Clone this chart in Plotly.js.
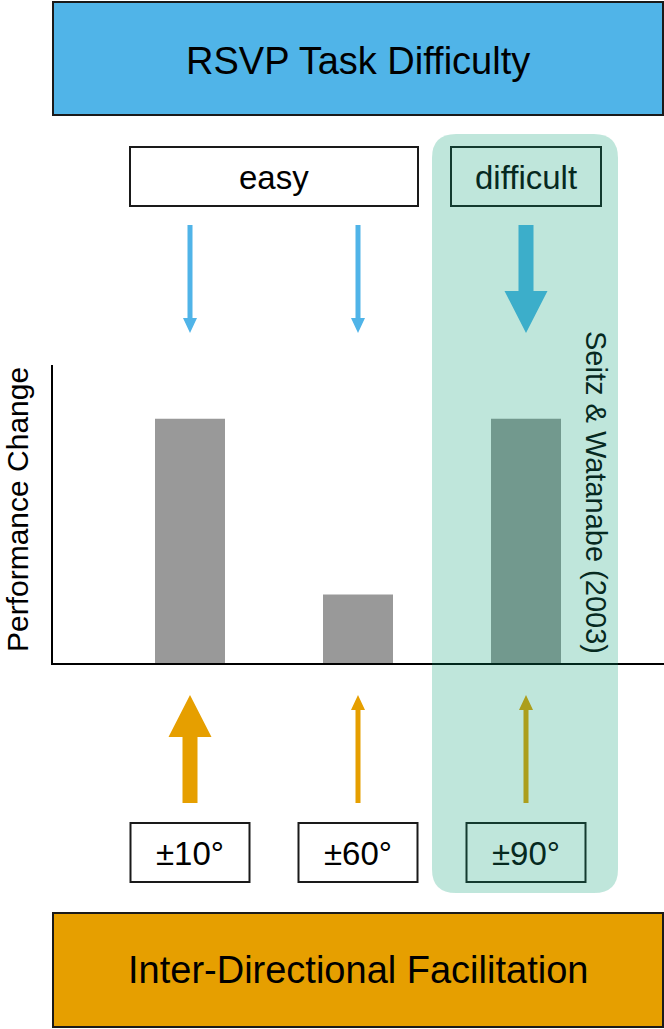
<!DOCTYPE html>
<html>
<head>
<meta charset="utf-8">
<script src="https://cdn.plot.ly/plotly-3.0.1.min.js"></script>
<style>body{margin:0;background:#fff}#chart{width:664px;height:1029px}</style>
</head>
<body>
<div id="chart"></div>
<script>
// Data
const directions = ['±10°', '±60°', '±90°'];
const performanceChange = [0.82, 0.23, 0.82];
const difficultyGroups = ['easy', 'easy', 'difficult'];
const rsvpArrow = ['thin', 'thin', 'thick'];
const facilitationArrow = ['thick', 'thin', 'thin'];
const topLabel = 'RSVP Task Difficulty';
const bottomLabel = 'Inter-Directional Facilitation';
const citation = 'Seitz & Watanabe (2003)';

// Page geometry (pixels)
const W = 664, H = 1029;
const fontFamily = 'Liberation Sans, Arial, sans-serif';
const blue = '#50B4E8', orange = '#E69F00', tint = '#06291f';
const colPx = 168, firstColPx = 190;
const axisLeft = 53, axisBottom = 663, axisTop = 365;

const px = v => v / W;          // px -> paper x
const py = v => 1 - v / H;      // px -> paper y
const dx = v => v / colPx;      // px -> data units on x
const cols = directions.map((_, i) => i);

const arrowSize = {
    thin: { shaft: 5, head: 14, len: 15 },
    thick: { shaft: 15, head: 43, len: 42 }
};

function arrowPath(i, yFrom, yTip, kind) {
    const s = arrowSize[kind];
    const dir = yTip > yFrom ? 1 : -1;
    const yb = yTip - dir * s.len;
    const pts = [
        [i - dx(s.shaft / 2), yFrom], [i + dx(s.shaft / 2), yFrom],
        [i + dx(s.shaft / 2), yb], [i + dx(s.head / 2), yb],
        [i, yTip],
        [i - dx(s.head / 2), yb], [i - dx(s.shaft / 2), yb]
    ];
    return 'M' + pts.map(p => p[0] + ',' + py(p[1])).join('L') + 'Z';
}

function box(x0, x1, y0, y1, xref, color) {
    return {
        type: 'rect', xref: xref, yref: 'paper',
        x0: x0, x1: x1, y0: py(y1), y1: py(y0),
        line: { color: '#1a1a1a', width: 2 }, fillcolor: color || 'rgba(0,0,0,0)', layer: 'above'
    };
}

function label(text, x, xref, y, size, color, angle) {
    return {
        text: text, x: x, xref: xref, y: py(y), yref: 'paper',
        showarrow: false, textangle: angle || 0,
        xanchor: 'center', yanchor: 'middle',
        font: { family: fontFamily, size: size, color: color || '#000' }
    };
}

const shapes = [];
const annotations = [];

// banners
shapes.push(box(px(axisLeft), px(663), 2, 115, 'paper', blue));
shapes.push(box(px(axisLeft), px(663), 913, 1027, 'paper', orange));
annotations.push(label(topLabel, px(358), 'paper', 61, 38));
annotations.push(label(bottomLabel, px(358), 'paper', 970, 38));

// difficulty group boxes
const groupPad = { easy: 60, difficult: 75 };
[...new Set(difficultyGroups)].forEach(g => {
    const idx = cols.filter(i => difficultyGroups[i] === g);
    const a = Math.min(...idx) - dx(groupPad[g]);
    const b = Math.max(...idx) + dx(groupPad[g]);
    shapes.push(box(a, b, 147, 206, 'x'));
    annotations.push(label(g, (a + b) / 2, 'x', 177, 33, g === 'difficult' ? tint : '#000'));
});

// direction boxes and arrows
cols.forEach(i => {
    shapes.push({ type: 'path', xref: 'x', yref: 'paper', path: arrowPath(i, 225, 333, rsvpArrow[i]),
        fillcolor: blue, line: { width: 0 }, layer: 'above' });
    shapes.push({ type: 'path', xref: 'x', yref: 'paper', path: arrowPath(i, 803, 695, facilitationArrow[i]),
        fillcolor: orange, line: { width: 0 }, layer: 'above' });
    shapes.push(box(i - dx(59.5), i + dx(59.5), 823, 882, 'x'));
    annotations.push(label(directions[i], i, 'x', 853, 33, difficultyGroups[i] === 'difficult' ? tint : '#000'));
});

// highlight of the difficult column
const hi = cols.filter(i => difficultyGroups[i] === 'difficult')[0];
(function () {
    const x0 = hi - dx(94), x1 = hi + dx(92), rx = dx(24);
    const y0 = py(134), y1 = py(893), ry = 24 / H;
    const path = `M${x0 + rx},${y0} L${x1 - rx},${y0} Q${x1},${y0} ${x1},${y0 - ry} L${x1},${y1 + ry} Q${x1},${y1} ${x1 - rx},${y1} L${x0 + rx},${y1} Q${x0},${y1} ${x0},${y1 + ry} L${x0},${y0 - ry} Q${x0},${y0} ${x0 + rx},${y0} Z`;
    shapes.push({ type: 'path', xref: 'x', yref: 'paper', path: path,
        fillcolor: 'rgba(0,155,110,0.25)', line: { width: 0 }, layer: 'above' });
})();

annotations.push(label('Performance Change', px(17), 'paper', 510, 30, '#000', -90));
annotations.push(label(citation, hi + dx(70), 'x', 492, 29, tint, 90));

Plotly.newPlot('chart',
    [{
        type: 'bar',
        x: cols,
        y: performanceChange,
        width: dx(70),
        marker: { color: '#999999', line: { width: 0 } },
        hoverinfo: 'skip'
    }],
    {
        width: W,
        height: H,
        margin: { l: 0, r: 0, t: 0, b: 0 },
        paper_bgcolor: '#ffffff',
        plot_bgcolor: 'rgba(0,0,0,0)',
        showlegend: false,
        xaxis: {
            domain: [px(axisLeft), 1],
            range: [dx(axisLeft - firstColPx), dx(W - firstColPx)],
            showline: true, linecolor: '#000', linewidth: 2,
            showgrid: false, zeroline: false, showticklabels: false, ticks: '',
            fixedrange: true
        },
        yaxis: {
            domain: [py(axisBottom), py(axisTop)],
            range: [0, 1],
            showline: true, linecolor: '#000', linewidth: 2,
            showgrid: false, zeroline: false, showticklabels: false, ticks: '',
            fixedrange: true
        },
        shapes: shapes,
        annotations: annotations
    },
    { displayModeBar: false, staticPlot: true }
);
</script>
</body>
</html>
